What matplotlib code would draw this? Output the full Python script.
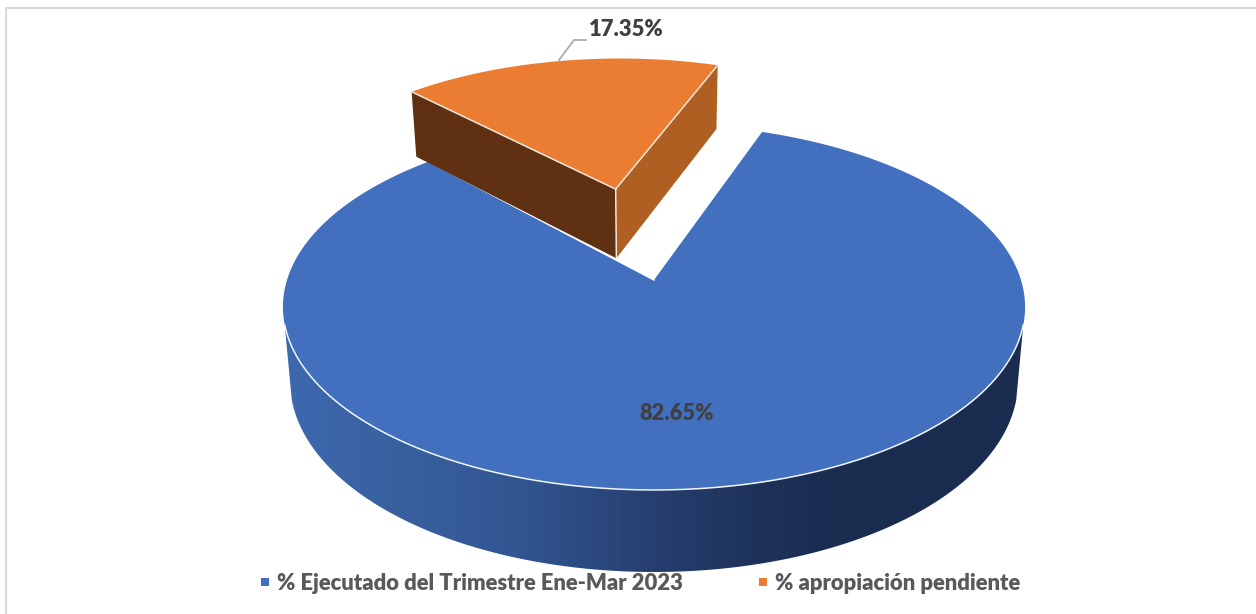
import numpy as np
import matplotlib
matplotlib.use('Agg')
import matplotlib.pyplot as plt
from matplotlib.colors import to_rgb
from matplotlib.patches import Polygon, Rectangle

labels = ['% Ejecutado del Trimestre Ene-Mar 2023', '% apropiación pendiente']
values = [82.65, 17.35]
value_labels = ['82.65%', '17.35%']
colors = ['#4270BF', '#EB7D32']

plt.rcParams['font.family'] = ['Lato', 'DejaVu Sans']

fig = plt.figure(figsize=(12.56, 6.14), dpi=100)
ax = fig.add_axes([0, 0, 1, 1])
ax.axis('off')

# perspective of the pie: k is the tilt, top and bottom are the two disc planes
k = 0.1475
cx = 654


def top(x, y):
    d = 1 + k * y
    return np.column_stack([cx + 367 * x / d, 280 - 179 * y / d])


def bottom(x, y):
    d = 1 + k * y
    return np.column_stack([cx + 360 * x / d, 353 - 186.7 * y / d])


def arc(a0, a1, r=1.0, n=200, off=(0, 0)):
    t = np.radians(np.linspace(a0, a1, n))
    return off[0] + r * np.sin(t), off[1] + r * np.cos(t)


first_angle = 19.6
sweep = values[0] / sum(values) * 360
a0 = first_angle
a1 = first_angle + sweep
a2 = first_angle + 360

# frame
ax.plot([1256, 6, 6], [7.5, 7.5, 614], color='#D9D9D9', lw=1.5, zorder=1)

# blue side wall, darkens from left to right
grad_x = [284, 400, 520, 654, 760, 830, 1025]
grad_c = np.array([to_rgb(c) for c in ['#3D69AF', '#38609F', '#325591', '#263F70', '#1E3259', '#1A2C50', '#1A2C50']])
xs = np.linspace(284, 1025, 742)
strip = np.stack([np.interp(xs, grad_x, grad_c[:, j]) for j in range(3)], axis=1)[np.newaxis, :, :]
im = ax.imshow(strip, extent=[284, 1025, 580, 300], aspect='auto', interpolation='bilinear', zorder=2)
x, y = arc(104, 256, n=300)
wall = Polygon(np.vstack([top(x, y), bottom(x, y)[::-1]]), closed=True, transform=ax.transData, fc='none', ec='none')
ax.add_patch(wall)
im.set_clip_path(wall)

ax.set_xlim(0, 1256)
ax.set_ylim(614, 0)

# blue top
x, y = arc(a0, a1, n=500)
blue = np.vstack([top(np.array([0.0]), np.array([0.0])), top(x, y)])
ax.add_patch(Polygon(blue, closed=True, fc=colors[0], ec='none', zorder=3))
x, y = arc(104, 256, n=200)
ax.plot(*top(x, y).T, color='#F2F5FA', lw=1.1, zorder=4)
ax.plot(*top(np.array([0.0, np.sin(np.radians(a1))]), np.array([0.0, np.cos(np.radians(a1))])).T,
        color='white', lw=1.1, zorder=4)

# orange slice pulled out along its bisector
mid = np.radians((a1 + a2) / 2)
off = (0.56 * np.sin(mid), 0.56 * np.cos(mid))
ax_x, ax_y = np.array([off[0]]), np.array([off[1]])
ox, oy = arc(a1 - 1, a2, r=0.965, off=off)
t_apex = top(ax_x, ax_y)[0]
b_apex = bottom(ax_x, ax_y)[0]
t_arc = top(ox, oy)
b_arc = bottom(ox, oy)
edge = '#F3E6DA'
ax.add_patch(Polygon([t_arc[0], t_apex, b_apex, b_arc[0]], closed=True, fc='#5F3012', ec='none', zorder=5))
ax.add_patch(Polygon([t_arc[-1], t_apex, b_apex, b_arc[-1]], closed=True, fc='#B05F22', ec='none', zorder=5))
ax.add_patch(Polygon(np.vstack([t_apex, t_arc]), closed=True, fc=colors[1], ec='none', zorder=6))
ax.plot([t_arc[0, 0], t_apex[0], t_arc[-1, 0]], [t_arc[0, 1], t_apex[1], t_arc[-1, 1]], color=edge, lw=1.1, zorder=7)
ax.plot([t_apex[0], b_apex[0]], [t_apex[1], b_apex[1]], color=edge, lw=1.1, zorder=7)

# data labels
ax.text(677, 414, value_labels[0], color='#404040', fontsize=15.8, fontweight='heavy', ha='center', va='center', zorder=8)
ax.text(626.5, 29, value_labels[1], color='#404040', fontsize=15.8, fontweight='heavy', ha='center', va='center', zorder=8)
ax.plot([559, 574, 586], [60, 40, 40], color='#A6A6A6', lw=1.2, zorder=8)

# legend
ax.add_patch(Rectangle((261, 578), 8, 8, fc=colors[0], ec='none', zorder=8))
ax.add_patch(Rectangle((758.5, 578), 8, 8, fc=colors[1], ec='none', zorder=8))
ax.text(277, 583, labels[0], color='#595959', fontsize=15.8, fontweight='heavy', ha='left', va='center', zorder=8)
ax.text(775, 583, labels[1], color='#595959', fontsize=15.8, fontweight='heavy', ha='left', va='center', zorder=8)

fig.savefig('out.png', dpi=100)
